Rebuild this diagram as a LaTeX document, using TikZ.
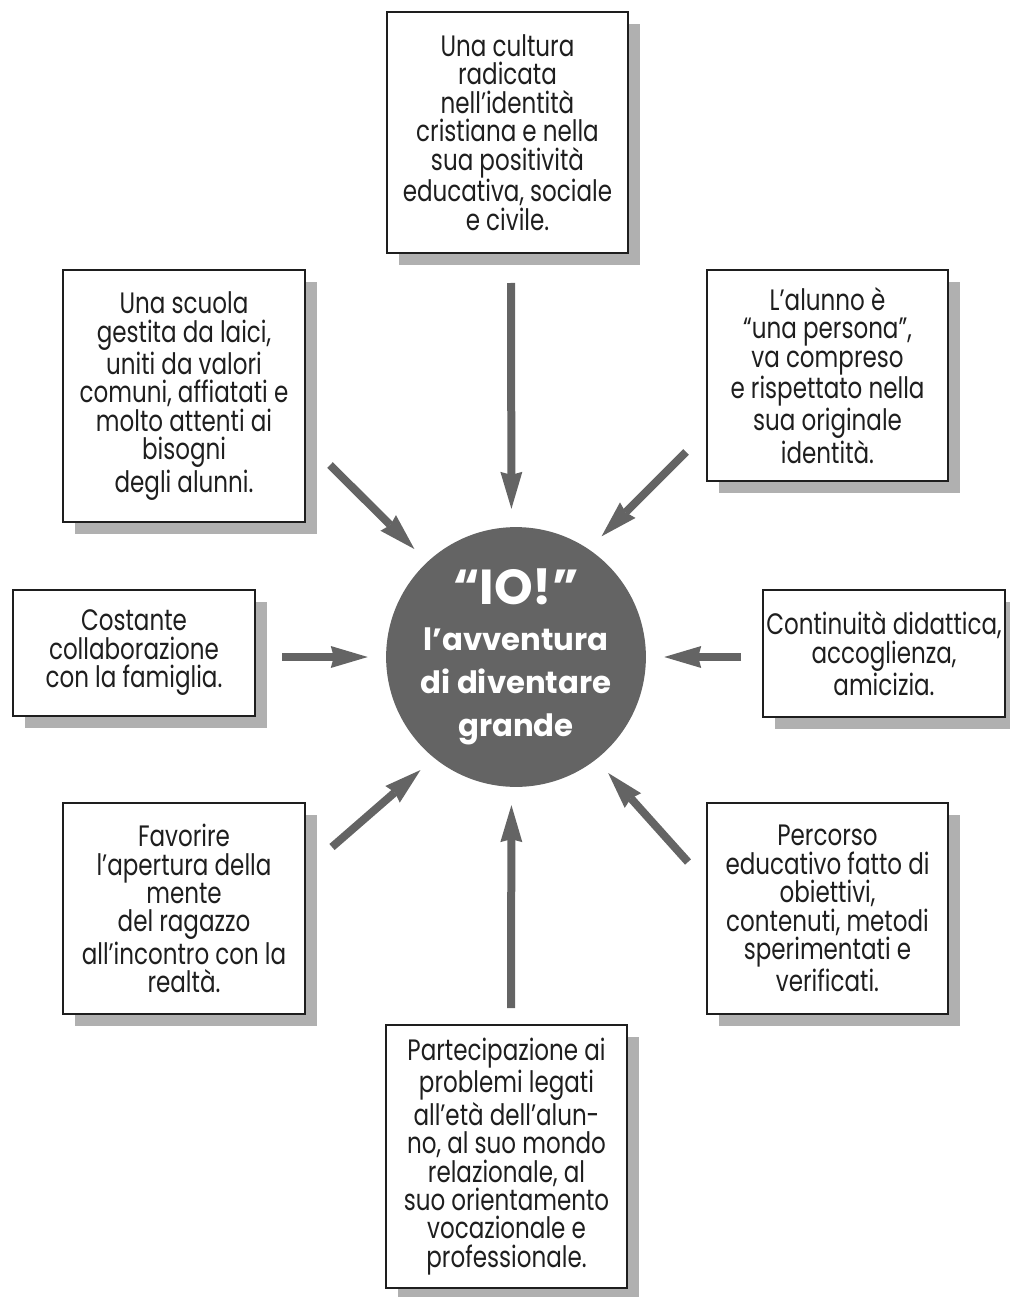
\documentclass[tikz,border=0pt]{standalone}
\usepackage{fontspec}
\setmainfont{Poppins}[FakeStretch=0.78]
\newfontfamily\iofont{Poppins}
\usetikzlibrary{arrows.meta,shadows}
\definecolor{iogray}{RGB}{100,100,100}
\definecolor{shade}{RGB}{176,176,176}
\definecolor{ink}{RGB}{30,30,30}
\begin{document}
\begin{tikzpicture}[x=0.02cm,y=-0.02cm,
    box/.style={draw=ink,line width=0.04cm,fill=white,align=center,inner sep=0pt,
      text=ink,font=\fontsize{16.8}{16.2}\selectfont,
      drop shadow={shadow xshift=0.24cm,shadow yshift=-0.24cm,fill=shade,opacity=1}},
    io/.style={circle,fill=iogray,inner sep=0pt,minimum size=4.86cm,align=center,
      text=white,font=\iofont\bfseries\fontsize{17.5}{24.5}\selectfont},
    arr/.style={draw=iogray,line width=0.16cm,shorten >=0.36cm,
      -{Stealth[length=0.74cm,width=0.44cm,inset=0.06cm,line width=0pt]}}]
  \useasboundingbox (0,0) rectangle (1009,1297);
  % centre
  \node[io] (io) at (516,657) {{\fontsize{28}{24}\selectfont “IO!”}\\[2pt] l’avventura\\ di diventare\\ grande};
  % boxes
  \node[box,minimum width=4.82cm,minimum height=4.82cm] (cult) at (507.5,132.5)
    {Una cultura\\ radicata\\ nell’identità\\ cristiana e nella\\ sua positività\\ educativa, sociale\\ e civile.};
  \node[box,minimum width=4.84cm,minimum height=5.04cm] (scuola) at (184,396)
    {Una scuola\\ gestita da laici,\\ uniti da valori\\ comuni, affiatati e\\ molto attenti ai\\ bisogni\\ degli alunni.};
  \node[box,minimum width=4.82cm,minimum height=4.22cm] (alunno) at (827.5,375.5)
    {L’alunno è\\ “una persona”,\\ va compreso\\ e rispettato nella\\ sua originale\\ identità.};
  \node[box,minimum width=4.84cm,minimum height=2.52cm] (fam) at (134,653)
    {Costante\\ collaborazione\\ con la famiglia.};
  \node[box,minimum width=4.84cm,minimum height=2.54cm] (cont) at (884,653.5)
    {Continuità didattica,\\ accoglienza,\\ amicizia.};
  \node[box,minimum width=4.84cm,minimum height=4.22cm] (mente) at (184,908.5)
    {Favorire\\ l’apertura della\\ mente\\ del ragazzo\\ all’incontro con la\\ realtà.};
  \node[box,minimum width=4.82cm,minimum height=4.22cm] (perc) at (827.5,908.5)
    {Percorso\\ educativo fatto di\\ obiettivi,\\ contenuti, metodi\\ sperimentati e\\ verificati.};
  \node[box,minimum width=4.82cm,minimum height=5.26cm] (part) at (506.5,1156.5)
    {Partecipazione ai\\ problemi legati\\ all’età dell’alun-\\ no, al suo mondo\\ relazionale, al\\ suo orientamento\\ vocazionale e\\ professionale.};
  % arrow starts
  \coordinate (s-cult) at (511,283);
  \coordinate (s-scuola) at (330,465);
  \coordinate (s-alunno) at (686,452);
  \coordinate (s-fam) at (282,657);
  \coordinate (s-cont) at (741,657);
  \coordinate (s-mente) at (332,847);
  \coordinate (s-perc) at (688,862);
  \coordinate (s-part) at (511,1008);
  % arrows
  \draw[arr] (s-cult) -- (io.92);
  \draw[arr] (s-scuola) -- (io.133);
  \draw[arr] (s-alunno) -- (io.56);
  \draw[arr] (s-fam) -- (io.180);
  \draw[arr] (s-cont) -- (io.0);
  \draw[arr] (s-mente) -- (io.231);
  \draw[arr] (s-perc) -- (io.308);
  \draw[arr] (s-part) -- (io.268);
\end{tikzpicture}
\end{document}
